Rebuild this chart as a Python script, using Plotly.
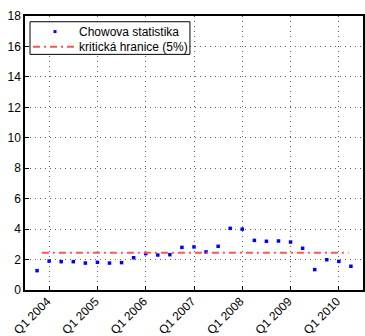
import plotly.graph_objects as go

# Quarterly periods, Q4 2003 .. Q2 2010
quarters = ["Q4 2003",
            "Q1 2004", "Q2 2004", "Q3 2004", "Q4 2004",
            "Q1 2005", "Q2 2005", "Q3 2005", "Q4 2005",
            "Q1 2006", "Q2 2006", "Q3 2006", "Q4 2006",
            "Q1 2007", "Q2 2007", "Q3 2007", "Q4 2007",
            "Q1 2008", "Q2 2008", "Q3 2008", "Q4 2008",
            "Q1 2009", "Q2 2009", "Q3 2009", "Q4 2009",
            "Q1 2010", "Q2 2010"]
chow_stat = [1.27,
             1.90, 1.86, 1.86, 1.77,
             1.82, 1.77, 1.80, 2.12,
             2.39, 2.30, 2.32, 2.80,
             2.83, 2.50, 2.87, 4.05,
             4.00, 3.26, 3.20, 3.22,
             3.15, 2.74, 1.34, 1.99,
             1.88, 1.56]
critical_value = 2.45
tick_years = [2004, 2005, 2006, 2007, 2008, 2009, 2010]
tick_labels = ["Q1 %d" % y for y in tick_years]
legend_labels = ["Chowova statistika", "kritická hranice (5%)"]

FONT = "Liberation Sans, Arial, sans-serif"
BLUE = "#0000ff"
RED = "rgb(255,85,85)"
RED_DASH = "7px,4px,2px,4px"


def quarter_to_x(q):
    qn, yr = q.split()
    return int(yr) + (int(qn[1]) - 1) / 4.0


xs = [quarter_to_x(q) for q in quarters]

fig = go.Figure()
fig.add_trace(go.Scatter(
    x=xs, y=chow_stat, mode="markers", name=legend_labels[0],
    marker=dict(color=BLUE, size=3.5, symbol="square"),
))
fig.add_trace(go.Scatter(
    x=[xs[0] + 0.1, xs[-1] - 0.05], y=[critical_value, critical_value],
    mode="lines", name=legend_labels[1],
    line=dict(color=RED, width=2, dash=RED_DASH),
))

tick_font = dict(family=FONT, size=12, color="black")
grid = dict(showgrid=True, gridcolor="rgba(80,80,80,0.9)", griddash="1px,4px",
            gridwidth=1, zeroline=False)
frame = dict(showline=True, linecolor="black", linewidth=1.5, mirror=True,
             ticks="inside", ticklen=4, tickcolor="black")

fig.update_layout(
    width=365, height=336,
    margin=dict(l=25, r=2, t=16, b=46, autoexpand=False),
    plot_bgcolor="white", paper_bgcolor="white",
    font=dict(family=FONT, size=12, color="black"),
    showlegend=False,
    xaxis=dict(range=[2003.5, 2010.5], tickmode="array", tickvals=tick_years,
               ticktext=tick_labels, tickangle=-45, tickfont=tick_font,
               ticklabelstandoff=-2, ticklabelshift=-2,
               automargin=False, **frame, **grid),
    yaxis=dict(range=[0, 18], tickmode="array", tickvals=list(range(0, 19, 2)),
               automargin=False, tickfont=tick_font, **frame, **grid),
)

# Legend box in the upper-left corner of the axes
fig.add_shape(type="rect", xref="paper", yref="paper",
              x0=0.0148, x1=0.488, y0=0.860, y1=0.979,
              line=dict(color="black", width=1), fillcolor="white", layer="above")
fig.add_shape(type="rect", xref="paper", yref="paper",
              x0=0.0888 - 1.5 / 338, x1=0.0888 + 1.5 / 338,
              y0=0.943 - 1.5 / 274, y1=0.943 + 1.5 / 274,
              line=dict(width=0), fillcolor=BLUE, layer="above")
fig.add_shape(type="line", xref="paper", yref="paper",
              x0=0.0237, x1=0.148, y0=0.888, y1=0.888,
              line=dict(color=RED, width=2, dash=RED_DASH), layer="above")
for lab, yy in zip(legend_labels, [0.943, 0.888]):
    fig.add_annotation(x=0.154, y=yy, xref="paper", yref="paper", text=lab,
                       showarrow=False, xanchor="left", yanchor="middle",
                       font=dict(family=FONT, size=12, color="black"))

fig.write_html("out.html")
